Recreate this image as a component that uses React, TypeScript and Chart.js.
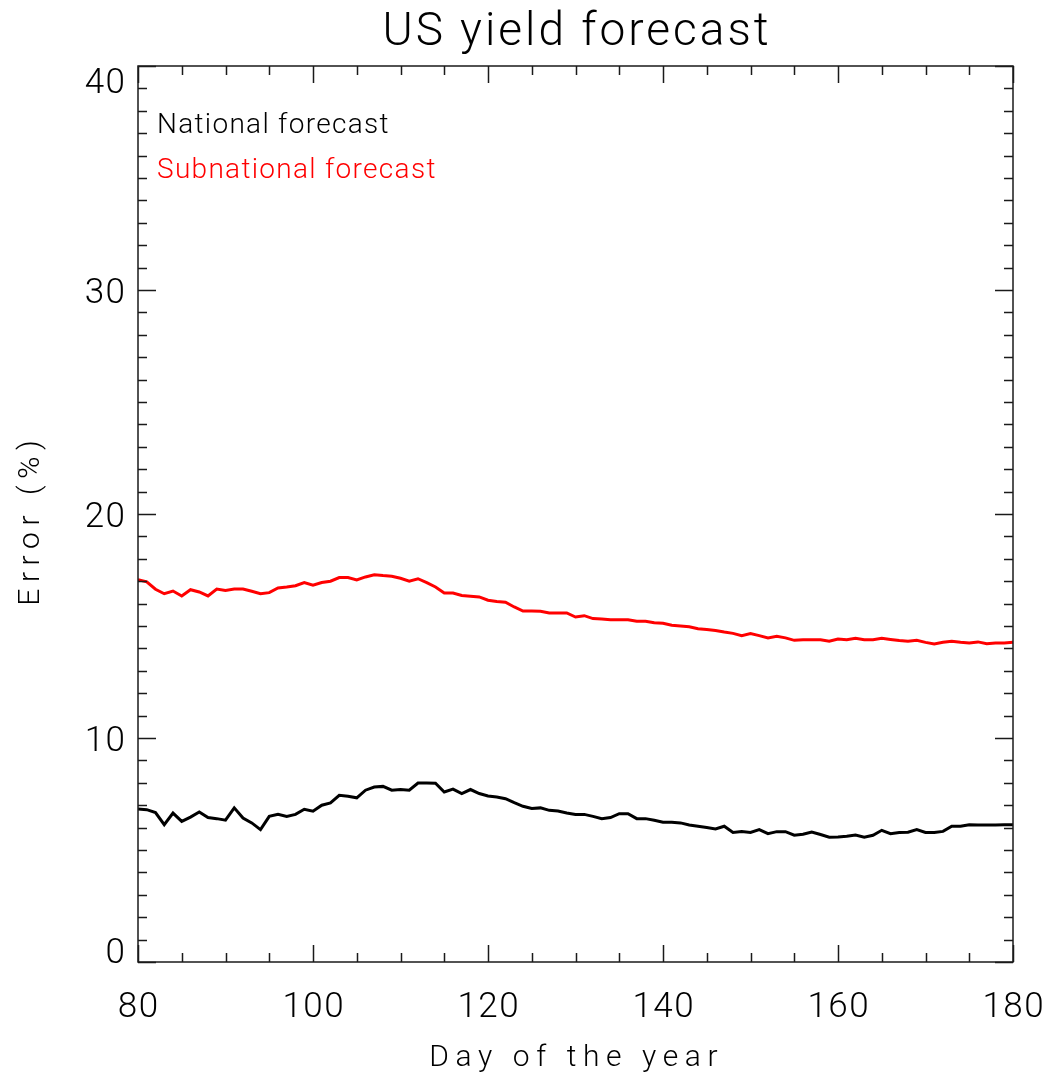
import { useEffect, useRef } from "react";
import { Chart, registerables } from "chart.js";

Chart.register(...registerables);

// Day of the year, 80 .. 180
const days = Array.from({ length: 101 }, (_, i) => 80 + i);

const nationalError = [
  6.83, 6.8, 6.67, 6.13, 6.65, 6.28, 6.47, 6.7, 6.45, 6.4,
  6.33, 6.88, 6.43, 6.21, 5.91, 6.5, 6.59, 6.5, 6.59, 6.82,
  6.73, 7.0, 7.1, 7.44, 7.4, 7.33, 7.67, 7.81, 7.84, 7.67,
  7.7, 7.67, 7.99, 7.99, 7.98, 7.59, 7.72, 7.52, 7.7, 7.52,
  7.41, 7.37, 7.29, 7.11, 6.95, 6.85, 6.88, 6.77, 6.74, 6.65,
  6.59, 6.59, 6.5, 6.4, 6.45, 6.62, 6.62, 6.4, 6.4, 6.33,
  6.24, 6.24, 6.21, 6.12, 6.06, 6.0, 5.94, 6.06, 5.78, 5.83,
  5.78, 5.91, 5.73, 5.82, 5.82, 5.66, 5.7, 5.8, 5.69, 5.57,
  5.58, 5.61, 5.67, 5.57, 5.66, 5.88, 5.73, 5.78, 5.79, 5.91,
  5.78, 5.78, 5.83, 6.06, 6.06, 6.13, 6.12, 6.12, 6.12, 6.13,
  6.13,
];

const subnationalError = [
  17.07, 16.97, 16.64, 16.44, 16.56, 16.34, 16.62, 16.52, 16.34, 16.65,
  16.59, 16.65, 16.65, 16.55, 16.44, 16.49, 16.7, 16.74, 16.8, 16.94,
  16.82, 16.94, 17.0, 17.16, 17.16, 17.06, 17.19, 17.29, 17.25, 17.22,
  17.13, 17.0, 17.11, 16.94, 16.74, 16.47, 16.47, 16.36, 16.33, 16.3,
  16.15, 16.09, 16.06, 15.85, 15.67, 15.67, 15.66, 15.58, 15.58, 15.58,
  15.4, 15.46, 15.33, 15.31, 15.28, 15.28, 15.28, 15.21, 15.21, 15.15,
  15.12, 15.03, 15.0, 14.97, 14.88, 14.84, 14.8, 14.73, 14.67, 14.57,
  14.66, 14.57, 14.47, 14.54, 14.47, 14.36, 14.39, 14.39, 14.39, 14.32,
  14.42, 14.39, 14.45, 14.39, 14.39, 14.45, 14.4, 14.35, 14.32, 14.36,
  14.27, 14.2, 14.27, 14.32, 14.27, 14.24, 14.29, 14.21, 14.24, 14.24,
  14.27,
];

const xMajorTicks = [80, 100, 120, 140, 160, 180];
const yMajorTicks = [0, 10, 20, 30, 40];
const xMinorStep = 5;
const yMinorStep = 1;

const chartTitle = "US yield forecast";
const xAxisTitle = "Day of the year";
const yAxisTitle = "Error (%)";
const seriesLabels = ["National forecast", "Subnational forecast"];
const seriesColors = ["#000000", "#ff0000"];

const FONT_FAMILY = "Roboto";
const FONT_WEIGHT = "300";

function spacedText(
  ctx: CanvasRenderingContext2D,
  str: string,
  x: number,
  y: number,
  size: number,
  spacing: number,
  align: "left" | "center" | "right",
  color: string
) {
  ctx.save();
  ctx.font = `${FONT_WEIGHT} ${size}px ${FONT_FAMILY}`;
  (ctx as any).letterSpacing = "0px";
  const w = ctx.measureText(str).width + spacing * (str.length - 1);
  (ctx as any).letterSpacing = `${spacing}px`;
  ctx.fillStyle = color;
  ctx.textAlign = "left";
  ctx.textBaseline = "alphabetic";
  const left = align === "left" ? x : align === "center" ? x - w / 2 : x - w;
  ctx.fillText(str, left, y);
  ctx.restore();
}

const framePlugin = {
  id: "idlFrame",
  afterDatasetsDraw(chart: any) {
    const ctx: CanvasRenderingContext2D = chart.ctx;
    const { left, right, top, bottom } = chart.chartArea;
    const xs = chart.scales.x;
    const ys = chart.scales.y;

    ctx.save();
    ctx.strokeStyle = "#1a1a1a";
    ctx.lineWidth = 1.5;
    ctx.strokeRect(left, top, right - left, bottom - top);

    // inward ticks on all four sides
    ctx.beginPath();
    for (let v = xs.min; v <= xs.max + 1e-9; v += xMinorStep) {
      const px = Math.round(xs.getPixelForValue(v)) + 0.5;
      const len = xMajorTicks.includes(v) ? 17 : 9;
      ctx.moveTo(px, bottom);
      ctx.lineTo(px, bottom - len);
      ctx.moveTo(px, top);
      ctx.lineTo(px, top + len);
    }
    for (let v = ys.min; v <= ys.max + 1e-9; v += yMinorStep) {
      const py = Math.round(ys.getPixelForValue(v)) + 0.5;
      const len = yMajorTicks.includes(v) ? 18 : 9;
      ctx.moveTo(left, py);
      ctx.lineTo(left + len, py);
      ctx.moveTo(right, py);
      ctx.lineTo(right - len, py);
    }
    ctx.stroke();
    ctx.restore();

    // tick labels
    for (const v of xMajorTicks) {
      spacedText(ctx, String(v), xs.getPixelForValue(v), bottom + 55, 35, 1.5, "center", "#000");
    }
    for (const v of yMajorTicks) {
      const py = ys.getPixelForValue(v);
      let base = py + 12.5;
      base = Math.min(base, bottom + 1);
      base = Math.max(base, top + 27);
      spacedText(ctx, String(v), left - 13, base, 35, 1.5, "right", "#000");
    }

    // titles
    const cx = (left + right) / 2;
    spacedText(ctx, chartTitle, cx, 45, 46, 3, "center", "#000");
    spacedText(ctx, xAxisTitle, cx - 2, 1066, 30, 6.6, "center", "#000");
    ctx.save();
    ctx.translate(39, 523);
    ctx.rotate(-Math.PI / 2);
    spacedText(ctx, yAxisTitle, 0, 0, 30, 6.6, "center", "#000");
    ctx.restore();

    // series labels inside the plot
    chart.data.datasets.forEach((ds: any, i: number) => {
      spacedText(ctx, ds.label, left + 19, 133 + i * 45, 28, 1.3, "left", ds.borderColor);
    });
  },
};

export default function App() {
  const canvasRef = useRef<HTMLCanvasElement>(null);

  useEffect(() => {
    const canvas = canvasRef.current;
    if (!canvas) return;
    const chart = new Chart(canvas, {
      type: "line",
      data: {
        datasets: [
          {
            label: seriesLabels[0],
            data: days.map((d, i) => ({ x: d, y: nationalError[i] })),
            borderColor: seriesColors[0],
            borderWidth: 3,
            pointRadius: 0,
            tension: 0,
          },
          {
            label: seriesLabels[1],
            data: days.map((d, i) => ({ x: d, y: subnationalError[i] })),
            borderColor: seriesColors[1],
            borderWidth: 3,
            pointRadius: 0,
            tension: 0,
          },
        ],
      },
      options: {
        responsive: false,
        animation: false,
        devicePixelRatio: 1,
        layout: { padding: { top: 66, left: 0, right: 37, bottom: 0 } },
        plugins: {
          legend: { display: false },
          title: { display: false },
          tooltip: { enabled: false },
        },
        scales: {
          x: {
            type: "linear",
            min: 80,
            max: 180,
            ticks: { display: false },
            grid: { display: false },
            border: { display: false },
            afterFit: (s: any) => {
              s.height = 115;
            },
          },
          y: {
            type: "linear",
            min: 0,
            max: 40,
            ticks: { display: false },
            grid: { display: false },
            border: { display: false },
            afterFit: (s: any) => {
              s.width = 138;
            },
          },
        },
      },
      plugins: [framePlugin],
    });
    return () => chart.destroy();
  }, []);

  return (
    <div
      style={{
        position: "absolute",
        left: 0,
        top: 0,
        width: 1050,
        height: 1077,
        background: "#ffffff",
      }}
    >
      <canvas ref={canvasRef} width={1050} height={1077} style={{ display: "block" }} />
    </div>
  );
}
